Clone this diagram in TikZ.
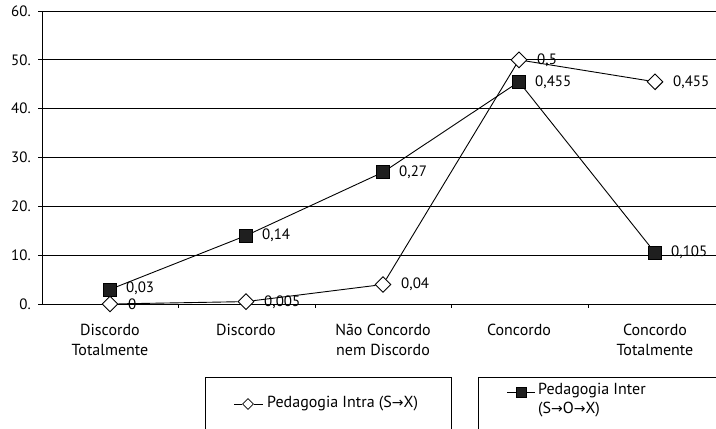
\documentclass[tikz,border=0pt]{standalone}
\usepackage{fontspec}
\setmainfont{PT Sans}
\newfontfamily\arrowfont{DejaVu Sans}
\usetikzlibrary{shapes.geometric}
\newcommand{\rarr}{{\arrowfont\fontsize{14}{16}\selectfont →}}
\tikzset{
  grid/.style={line width=1pt},
  series/.style={line width=0.9pt},
  dia/.style={draw, diamond, fill=white, line width=0.9pt, minimum width=16pt, minimum height=16pt, inner sep=0pt},
  sq/.style={draw, rectangle, fill=black!88, line width=0.6pt, minimum size=13pt, inner sep=0pt},
  val/.style={anchor=west, font=\fontsize{15}{17}\selectfont, inner sep=1pt},
  ylab/.style={anchor=east, font=\fontsize{15}{17}\selectfont, inner sep=0pt},
  xlab/.style={align=center, font=\fontsize{16}{19.5}\selectfont, anchor=north},
  legtext/.style={font=\fontsize{16}{19}\selectfont, align=left, inner sep=0pt}
}
\begin{document}
\begin{tikzpicture}[x=1pt,y=-1pt]
\useasboundingbox (0,0) rectangle (716,429);
\clip (0,0) rectangle (716,429);
% grid
\foreach \v/\yy in {0/304,10/255.2,20/206.3,30/157.5,40/108.7,50/59.8,60/11}{
  \draw[grid] (38,\yy) -- (716,\yy);
  \node[ylab] (yl\v) at (31,\yy) {\v.};
}
\draw[grid] (42,11) -- (42,304);
\foreach \xx in {178.5,315,451.5,588}{
  \draw[line width=0.8pt] (\xx,304) -- (\xx,308);
}
% x labels
\node[xlab] (c1) at (110,321) {Discordo\\Totalmente};
\node[xlab] (c2) at (246,321) {Discordo};
\node[xlab] (c3) at (383,321) {Não Concordo\\nem Discordo};
\node[xlab] (c4) at (519,321) {Concordo};
\node[xlab] (c5) at (655,321) {Concordo\\Totalmente};
% Inter series (squares)
\node[sq] (b1) at (110,289.4) {};
\node[sq] (b2) at (246,235.6) {};
\node[sq] (b3) at (383,172.2) {};
\node[sq] (b4) at (519,81.8) {};
\node[sq] (b5) at (655,252.7) {};
% Intra series (diamonds)
\node[dia] (a1) at (110,304) {};
\node[dia] (a2) at (246,301.6) {};
\node[dia] (a3) at (383,284.5) {};
\node[dia] (a4) at (519,59.9) {};
\node[dia] (a5) at (655,81.8) {};
\draw[series] (b1) -- (b2) -- (b3) -- (b4) -- (b5);
\draw[series] (a1) -- (a2) -- (a3) -- (a4) -- (a5);
% value labels
\node[val] (lb1) at (125,288.5) {0,03};
\node[val] (lb2) at (261,235.6) {0,14};
\node[val] (lb3) at (398,172.2) {0,27};
\node[val] (lb4) at (534,81.8) {0,455};
\node[val] (lb5) at (670,252.7) {0,105};
\node[val] (la1) at (127,304) {0};
\node[val] (la2) at (263,302) {0,005};
\node[val] (la3) at (400,284.5) {0,04};
\node[val] (la4) at (536,59.9) {0,5};
\node[val] (la5) at (672,81.8) {0,455};
% legend
\draw[line width=0.9pt] (205,377) rectangle (451,440);
\draw[line width=0.9pt] (478,377) rectangle (730,440);
\coordinate (m1l) at (234,404);
\coordinate (m1r) at (263,404);
\node[dia, minimum width=11pt, minimum height=11pt, line width=0.8pt] (m1) at (248,404) {};
\draw[series] (m1l) -- (m1) -- (m1r);
\node[legtext, anchor=west] (t1) at (267,404) {Pedagogia Intra (S\rarr X)};
\coordinate (m2l) at (507,392);
\coordinate (m2r) at (535,392);
\node[sq, minimum size=10pt] (m2) at (521,392) {};
\draw[series] (m2l) -- (m2) -- (m2r);
\node[legtext, anchor=north west] (t2) at (538,383) {Pedagogia Inter\\(S\rarr O\rarr X)};
\end{tikzpicture}
\end{document}
